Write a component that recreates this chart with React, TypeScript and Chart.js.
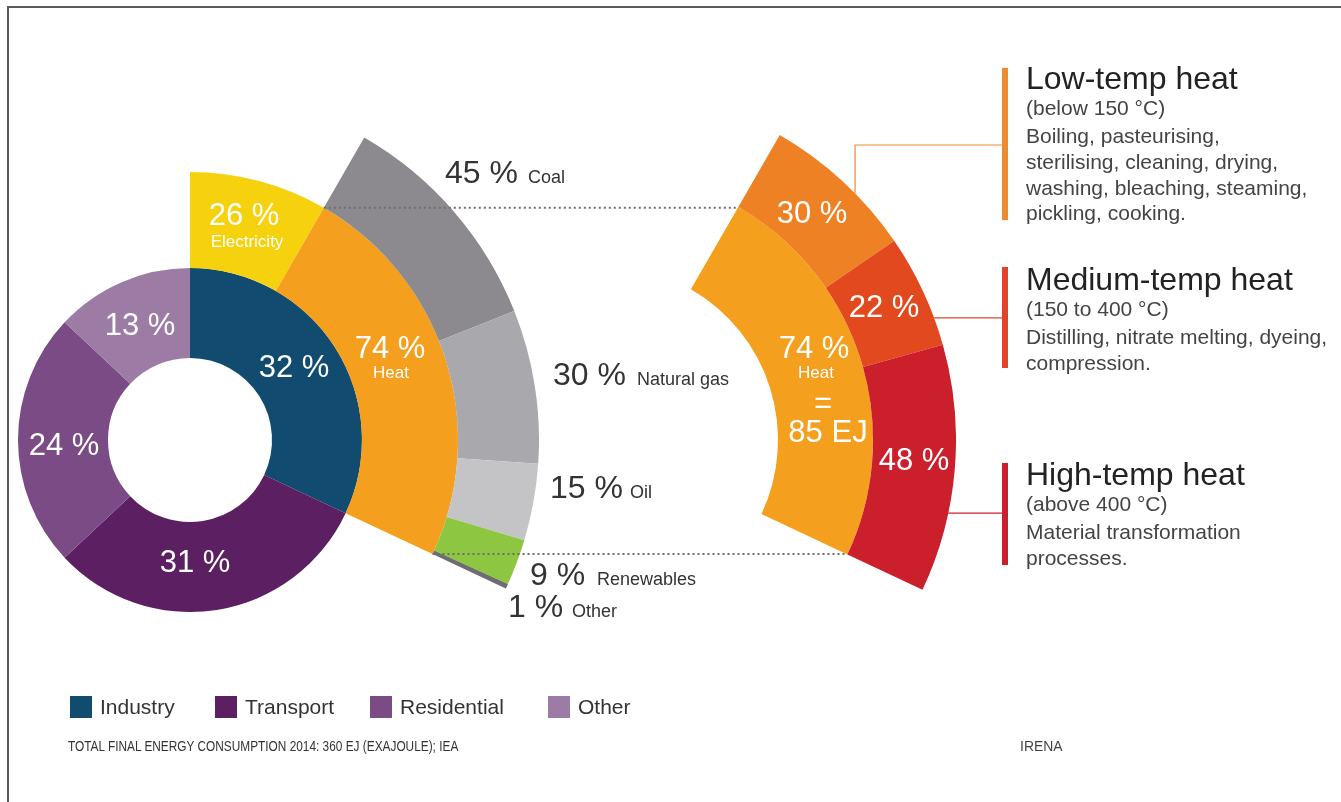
import React, { useEffect, useRef } from "react";
import { Chart, registerables } from "chart.js";

Chart.register(...registerables);

// ---------- DATA ----------
const sectorLabels = ["Industry", "Transport", "Residential", "Other"];
const sectorValues = [32, 31, 24, 13];
const sectorColors = ["#114b6f", "#5b1f62", "#7b4b86", "#9c7ba4"];

const industryLabels = ["Electricity", "Heat"];
const industryValues = [26, 74];
const industryColors = ["#f6d20e", "#f49f1e"];

const fuelLabels = ["Coal", "Natural gas", "Oil", "Renewables", "Other"];
const fuelValues = [45, 30, 15, 9, 1];
const fuelColors = ["#8c8a8f", "#a9a8ac", "#c4c3c6", "#8dc641", "#6d6d70"];

const tempLabels = ["Low-temp heat", "Medium-temp heat", "High-temp heat"];
const tempValues = [30, 22, 48];
const tempColors = ["#ef8125", "#e2491f", "#cb1f2c"];
const tempBarColors = ["#ef8a2e", "#e0442a", "#c9202e"];
const tempRanges = ["(below 150 °C)", "(150 to 400 °C)", "(above 400 °C)"];
const tempUses = [
  ["Boiling, pasteurising,", "sterilising, cleaning, drying,", "washing, bleaching, steaming,", "pickling, cooking."],
  ["Distilling, nitrate melting, dyeing,", "compression."],
  ["Material transformation", "processes."],
];

const heatTotalEJ = 85;
const footnote = "TOTAL FINAL ENERGY CONSUMPTION 2014: 360 EJ (EXAJOULE); IEA";
const source = "IRENA";

// ---------- GEOMETRY ----------
const sum = (a: number[]) => a.reduce((s, v) => s + v, 0);
const industrySweep = (360 * sectorValues[0]) / sum(sectorValues);
const heatStart = (industrySweep * industryValues[0]) / sum(industryValues);
const heatSweep = industrySweep - heatStart;

const L = { cx: 190, cy: 440, r0: 82, r1: 172, r2: 268, r3: 349 };
const R = { cx: 604, cy: 440, r0: 174, r1: 269, r2: 352 };

const FONT = '"Liberation Sans", Arial, Helvetica, sans-serif';

function polar(cx: number, cy: number, r: number, deg: number): [number, number] {
  const a = (deg * Math.PI) / 180;
  return [cx + r * Math.sin(a), cy - r * Math.cos(a)];
}

const arcBase = { borderWidth: 0, hoverBorderWidth: 0, hoverOffset: 0, offset: 0 };

function DoughnutLayer(props: { cx: number; cy: number; radius: number; cutout: number; labels: string[]; datasets: any[]; z: number }) {
  const ref = useRef<HTMLCanvasElement>(null);
  useEffect(() => {
    const chart = new Chart(ref.current as HTMLCanvasElement, {
      type: "doughnut",
      data: { labels: props.labels, datasets: props.datasets },
      options: {
        responsive: false,
        animation: false,
        events: [],
        cutout: props.cutout,
        layout: { padding: 0 },
        plugins: { legend: { display: false }, tooltip: { enabled: false } },
      } as any,
    });
    return () => chart.destroy();
  }, []);
  const size = props.radius * 2;
  return (
    <canvas
      ref={ref}
      width={size}
      height={size}
      style={{ position: "absolute", left: props.cx - props.radius, top: props.cy - props.radius, width: size, height: size, zIndex: props.z }}
    />
  );
}

function Txt(p: { x: number; y: number; size: number; color?: string; align?: "left" | "center"; children: React.ReactNode; style?: React.CSSProperties }) {
  return (
    <div
      style={{
        position: "absolute",
        left: p.x,
        top: p.y - 0.8465 * p.size,
        fontSize: p.size,
        lineHeight: `${p.size}px`,
        color: p.color || "#333",
        fontFamily: FONT,
        whiteSpace: "nowrap",
        transform: p.align === "center" ? "translateX(-50%)" : undefined,
        zIndex: 5,
        ...p.style,
      }}
    >
      {p.children}
    </div>
  );
}

export default function App() {
  const leftDatasets = [
    { label: "Heat sources", data: fuelValues, backgroundColor: fuelColors, rotation: heatStart, circumference: heatSweep, weight: L.r3 - L.r2, ...arcBase },
    { label: "Industry energy use", data: industryValues, backgroundColor: industryColors, rotation: 0, circumference: industrySweep, weight: L.r2 - L.r1, ...arcBase },
    { label: "Sectors", data: sectorValues, backgroundColor: sectorColors, rotation: 0, circumference: 360, weight: L.r1 - L.r0, ...arcBase },
  ];
  const rightDatasets = [
    { label: "Heat by temperature", data: tempValues, backgroundColor: tempColors, rotation: heatStart, circumference: heatSweep, weight: R.r2 - R.r1, ...arcBase },
    { label: "Heat", data: [industryValues[1]], backgroundColor: [industryColors[1]], rotation: heatStart, circumference: heatSweep, weight: R.r1 - R.r0, ...arcBase },
    { label: "spacer", data: [1], backgroundColor: ["rgba(0,0,0,0)"], rotation: 0, circumference: 360, weight: R.r0, ...arcBase },
  ];

  // dotted connectors between the two heat arcs
  const tL = polar(L.cx, L.cy, L.r2, heatStart);
  const tR = polar(R.cx, R.cy, R.r1, heatStart);
  const bL = polar(L.cx, L.cy, L.r2, heatStart + heatSweep);
  const bR = polar(R.cx, R.cy, R.r1, heatStart + heatSweep);

  // connectors to text blocks
  const lowP = polar(R.cx, R.cy, R.r2, 45.5);
  const medP = polar(R.cx, R.cy, R.r2, 69.7);
  const highP = polar(R.cx, R.cy, R.r2, 102);
  const barX = 1002;
  const bars = [
    { y0: 68, y1: 220 },
    { y0: 267, y1: 368 },
    { y0: 463, y1: 565 },
  ];
  const titleBase = [89, 290, 485];

  const fuelPos = [
    { x: 445, y: 183, wx: 528 },
    { x: 553, y: 385, wx: 637 },
    { x: 550, y: 498, wx: 630 },
    { x: 530, y: 585, wx: 597 },
    { x: 508, y: 617, wx: 572 },
  ];
  const legendX = [70, 215, 370, 548];

  const big = 31;
  const white = "#ffffff";

  return (
    <div style={{ position: "absolute", left: 0, top: 0, width: 1341, height: 802, overflow: "hidden", background: "#fff", fontFamily: FONT }}>
      {/* frame */}
      <div style={{ position: "absolute", left: 7, top: 6, width: 1334, height: 2, background: "#5a5a5a" }} />
      <div style={{ position: "absolute", left: 7, top: 6, width: 2, height: 796, background: "#5a5a5a" }} />

      <DoughnutLayer cx={L.cx} cy={L.cy} radius={L.r3} cutout={L.r0} labels={sectorLabels} datasets={leftDatasets} z={1} />
      <DoughnutLayer cx={R.cx} cy={R.cy} radius={R.r2} cutout={0} labels={tempLabels} datasets={rightDatasets} z={2} />

      <svg width={1341} height={802} style={{ position: "absolute", left: 0, top: 0, zIndex: 3 }}>
        <line x1={tL[0]} y1={tL[1]} x2={tR[0]} y2={tL[1]} stroke="#6e6e6e" strokeWidth={2} strokeDasharray="2 3" />
        <line x1={bL[0]} y1={bL[1]} x2={bR[0]} y2={bL[1]} stroke="#6e6e6e" strokeWidth={2} strokeDasharray="2 3" />
        <polyline points={`${lowP[0]},${lowP[1]} ${lowP[0]},145 ${barX},145`} fill="none" stroke={tempBarColors[0]} strokeWidth={1.2} />
        <line x1={medP[0]} y1={medP[1]} x2={barX} y2={medP[1]} stroke={tempBarColors[1]} strokeWidth={1.2} />
        <line x1={highP[0]} y1={highP[1]} x2={barX} y2={highP[1]} stroke={tempBarColors[2]} strokeWidth={1.2} />
        {bars.map((b, i) => (
          <rect key={i} x={barX} y={b.y0} width={6} height={b.y1 - b.y0} fill={tempBarColors[i]} />
        ))}
      </svg>

      {/* left chart labels */}
      <Txt x={244} y={225} size={big} color={white} align="center">{industryValues[0]} %</Txt>
      <Txt x={247} y={247} size={17} color={white} align="center">{industryLabels[0]}</Txt>
      <Txt x={390} y={358} size={big} color={white} align="center">{industryValues[1]} %</Txt>
      <Txt x={391} y={378} size={17} color={white} align="center">{industryLabels[1]}</Txt>
      <Txt x={294} y={377} size={big} color={white} align="center">{sectorValues[0]} %</Txt>
      <Txt x={195} y={572} size={big} color={white} align="center">{sectorValues[1]} %</Txt>
      <Txt x={64} y={455} size={big} color={white} align="center">{sectorValues[2]} %</Txt>
      <Txt x={140} y={335} size={big} color={white} align="center">{sectorValues[3]} %</Txt>

      {/* fuel labels */}
      {fuelLabels.map((lab, i) => (
        <React.Fragment key={lab}>
          <Txt x={fuelPos[i].x} y={fuelPos[i].y} size={32} color="#333">{fuelValues[i]} %</Txt>
          <Txt x={fuelPos[i].wx} y={fuelPos[i].y} size={18} color="#333">{lab}</Txt>
        </React.Fragment>
      ))}

      {/* right chart labels */}
      <Txt x={812} y={223} size={big} color={white} align="center">{tempValues[0]} %</Txt>
      <Txt x={884} y={317} size={big} color={white} align="center">{tempValues[1]} %</Txt>
      <Txt x={914} y={470} size={big} color={white} align="center">{tempValues[2]} %</Txt>
      <Txt x={814} y={358} size={big} color={white} align="center">{industryValues[1]} %</Txt>
      <Txt x={816} y={378} size={17} color={white} align="center">{industryLabels[1]}</Txt>
      <Txt x={823} y={413} size={big} color={white} align="center">=</Txt>
      <Txt x={828} y={442} size={big} color={white} align="center">{heatTotalEJ} EJ</Txt>

      {/* right text blocks */}
      {tempLabels.map((t, i) => (
        <React.Fragment key={t}>
          <Txt x={1026} y={titleBase[i]} size={32} color="#222">{t}</Txt>
          <Txt x={1026} y={titleBase[i] + 26} size={21} color="#444">{tempRanges[i]}</Txt>
          {tempUses[i].map((line, j) => (
            <Txt key={j} x={1026} y={titleBase[i] + 54 + j * 25.7} size={21} color="#444">{line}</Txt>
          ))}
        </React.Fragment>
      ))}

      {/* legend */}
      {sectorLabels.map((lab, i) => (
        <React.Fragment key={lab}>
          <div style={{ position: "absolute", left: legendX[i], top: 696, width: 22, height: 22, background: sectorColors[i] }} />
          <Txt x={legendX[i] + 30} y={714} size={21} color="#333">{lab}</Txt>
        </React.Fragment>
      ))}

      <Txt x={68} y={751} size={15} color="#333" style={{ transform: "scaleX(0.79)", transformOrigin: "left center" }}>{footnote}</Txt>
      <Txt x={1020} y={751} size={15} color="#444" style={{ transform: "scaleX(0.93)", transformOrigin: "left center" }}>{source}</Txt>
    </div>
  );
}
